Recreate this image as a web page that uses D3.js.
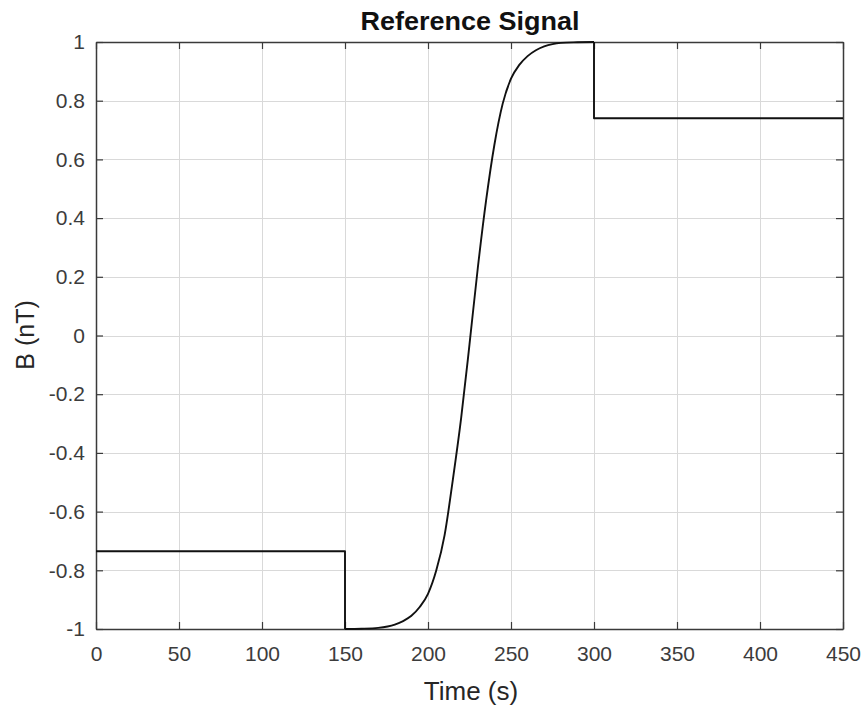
<!DOCTYPE html>
<html>
<head>
<meta charset="utf-8">
<script src="https://cdn.jsdelivr.net/npm/d3@7"></script>
<style>
  html, body { margin: 0; padding: 0; background: #ffffff; }
  svg { display: block; }
</style>
</head>
<body>
<svg id="chart" width="865" height="706"></svg>
<script>
// ---- data ----
const title = "Reference Signal";
const xLabel = "Time (s)";
const yLabel = "B (nT)";
const xTicks = [0, 50, 100, 150, 200, 250, 300, 350, 400, 450];
const yTicks = [-1, -0.8, -0.6, -0.4, -0.2, 0, 0.2, 0.4, 0.6, 0.8, 1];
const xTickLabels = ["0", "50", "100", "150", "200", "250", "300", "350", "400", "450"];
const yTickLabels = ["-1", "-0.8", "-0.6", "-0.4", "-0.2", "0", "0.2", "0.4", "0.6", "0.8", "1"];

// constant levels before and after the transition (step segments)
const stepBeforeTime = [0, 150, 150];
const stepBeforeValue = [-0.735, -0.735, -1];
const stepAfterTime = [300, 300, 450];
const stepAfterValue = [1, 0.74, 0.74];

// smooth transition between 150 s and 300 s
const rampTime = [150, 160, 170, 180, 185, 190, 195, 200, 205, 210, 215, 220, 225, 230, 235, 240, 245, 250, 255, 260, 265, 270, 275, 280, 290, 300];
const rampValue = [-1, -0.999, -0.996, -0.985, -0.973, -0.955, -0.925, -0.88, -0.80, -0.68, -0.49, -0.28, -0.03, 0.23, 0.46, 0.65, 0.79, 0.875, 0.922, 0.952, 0.972, 0.985, 0.993, 0.997, 0.999, 1];

// ---- layout ----
const pL = 96, pR = 843, pT = 42, pB = 629;
const svg = d3.select("#chart");
const font = "'Liberation Sans', Arial, Helvetica, sans-serif";

const x = d3.scaleLinear().domain([0, 450]).range([pL, pR]);
const y = d3.scaleLinear().domain([-1, 1]).range([pB, pT]);

// grid
const grid = svg.append("g");
grid.selectAll("line.gx").data(xTicks).join("line")
  .attr("x1", d => Math.round(x(d)) + 0.5).attr("x2", d => Math.round(x(d)) + 0.5)
  .attr("y1", pT).attr("y2", pB)
  .attr("stroke", "#d9d9d9").attr("stroke-width", 1);
grid.selectAll("line.gy").data(yTicks).join("line")
  .attr("y1", d => Math.round(y(d)) + 0.5).attr("y2", d => Math.round(y(d)) + 0.5)
  .attr("x1", pL).attr("x2", pR)
  .attr("stroke", "#d9d9d9").attr("stroke-width", 1);

// axes (ticks inward), on all four sides
const tickLen = 7;
const axisColor = "#3a3a3a";
const bottomAxis = d3.axisBottom(x).tickValues(xTicks).tickFormat((d, i) => xTickLabels[i])
  .tickSizeInner(-tickLen).tickSizeOuter(0).tickPadding(17);
const leftAxis = d3.axisLeft(y).tickValues(yTicks).tickFormat((d, i) => yTickLabels[i])
  .tickSizeInner(-tickLen).tickSizeOuter(0).tickPadding(11);
const topAxis = d3.axisTop(x).tickValues(xTicks).tickFormat("")
  .tickSizeInner(-tickLen).tickSizeOuter(0);
const rightAxis = d3.axisRight(y).tickValues(yTicks).tickFormat("")
  .tickSizeInner(-tickLen).tickSizeOuter(0);

function styleAxis(g) {
  g.select(".domain").attr("stroke", axisColor).attr("stroke-width", 1.5);
  g.selectAll(".tick line").attr("stroke", axisColor).attr("stroke-width", 1.2);
  g.selectAll(".tick text").attr("fill", "#3c3c3c").style("font-family", font).style("font-size", "21px");
}

svg.append("g").attr("transform", `translate(0,${pB})`).call(bottomAxis).call(styleAxis);
svg.append("g").attr("transform", `translate(${pL},0)`).call(leftAxis).call(styleAxis);
svg.append("g").attr("transform", `translate(0,${pT})`).call(topAxis).call(styleAxis);
svg.append("g").attr("transform", `translate(${pR},0)`).call(rightAxis).call(styleAxis);

// data lines
const lineLinear = d3.line().x(d => x(d[0])).y(d => y(d[1]));
const lineSmooth = d3.line().x(d => x(d[0])).y(d => y(d[1])).curve(d3.curveMonotoneX);

const before = stepBeforeTime.map((t, i) => [t, stepBeforeValue[i]]);
const after = stepAfterTime.map((t, i) => [t, stepAfterValue[i]]);
const ramp = rampTime.map((t, i) => [t, rampValue[i]]);

const lines = svg.append("g").attr("fill", "none").attr("stroke", "#111").attr("stroke-width", 1.9)
  .attr("stroke-linejoin", "round");
lines.append("path").attr("d", lineLinear(before));
lines.append("path").attr("d", lineSmooth(ramp));
lines.append("path").attr("d", lineLinear(after));

// title and labels
svg.append("text").attr("x", 470).attr("y", 30).attr("text-anchor", "middle")
  .style("font-family", font).style("font-size", "25px").style("font-weight", "bold")
  .attr("fill", "#111").attr("textLength", 219).attr("lengthAdjust", "spacingAndGlyphs")
  .text(title);
svg.append("text").attr("x", 471).attr("y", 700).attr("text-anchor", "middle")
  .style("font-family", font).style("font-size", "26px").attr("fill", "#262626")
  .text(xLabel);
svg.append("text").attr("transform", "translate(34,335) rotate(-90)").attr("text-anchor", "middle")
  .style("font-family", font).style("font-size", "25px").attr("fill", "#262626")
  .text(yLabel);
</script>
</body>
</html>
